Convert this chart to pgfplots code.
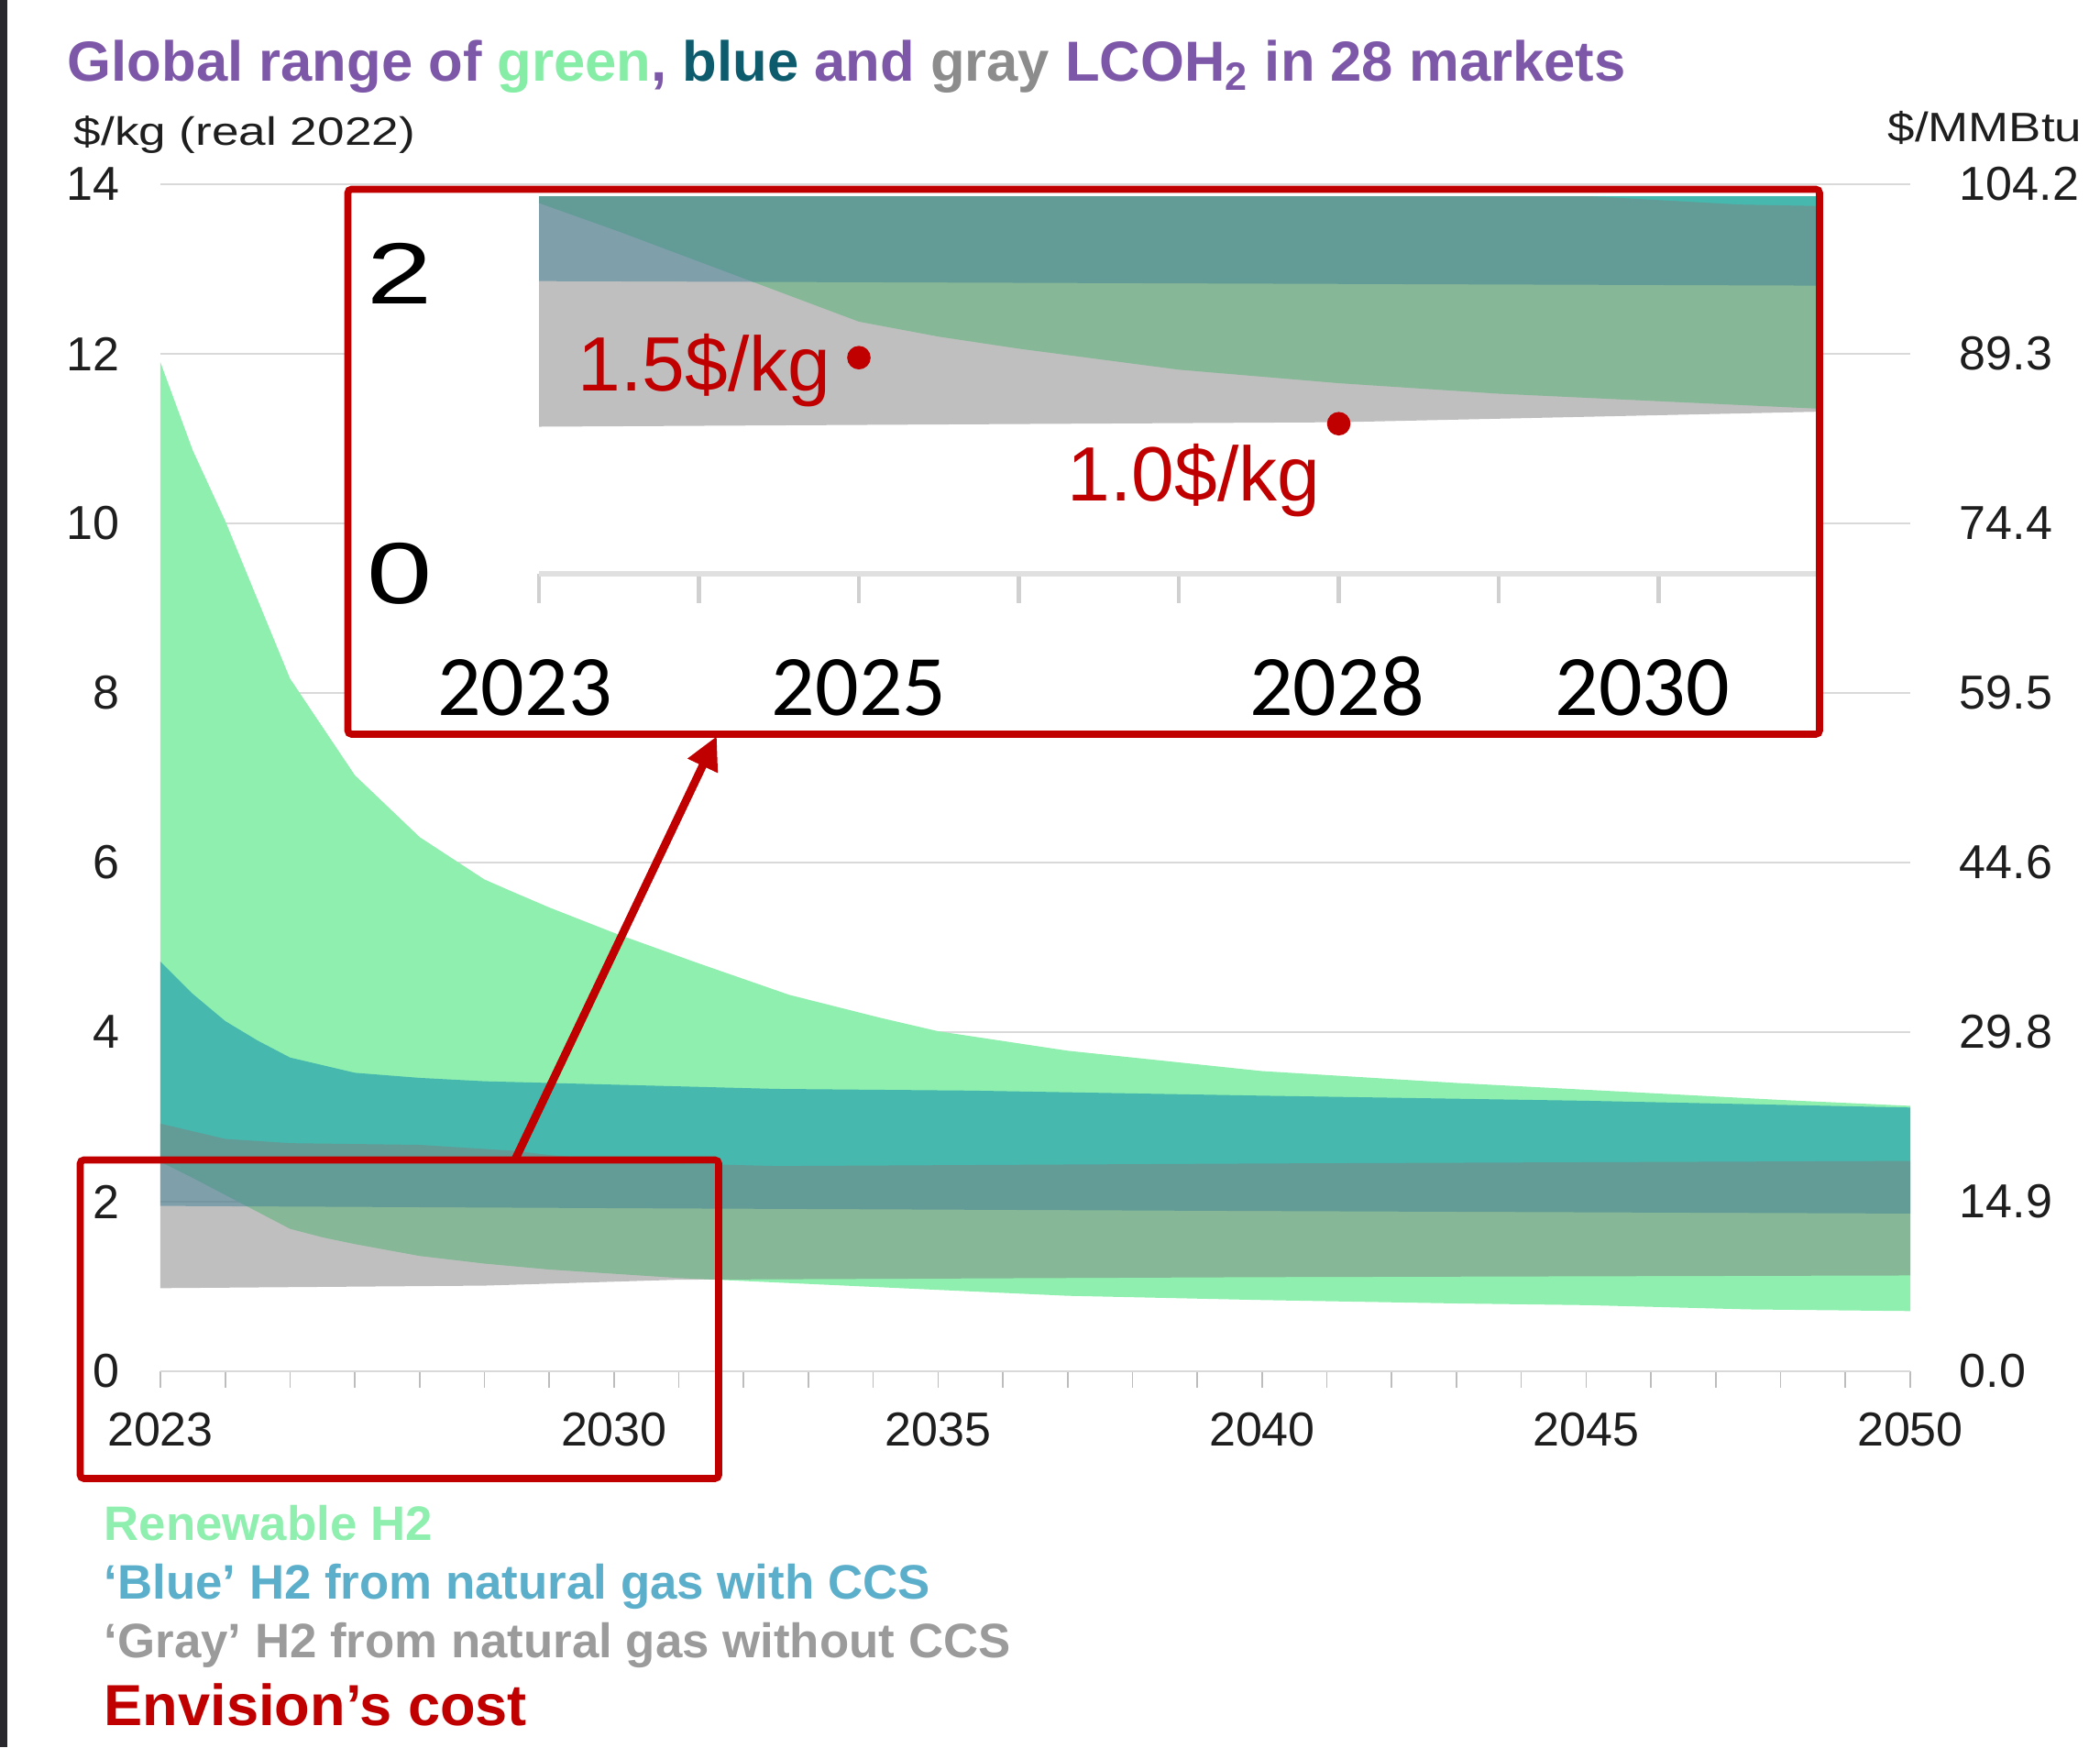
\documentclass[border=0pt]{standalone}
\usepackage{pgfplots}
\pgfplotsset{compat=1.18}
\usepackage{pgfplotstable}
\usetikzlibrary{arrows.meta}
\usepackage{graphicx}
\usepackage{fontspec}
\setmainfont{Liberation Sans}
\newfontfamily\carlito{Carlito}

\definecolor{cgreen}{HTML}{8EEFAE}
\definecolor{cteal}{HTML}{0082AF}
\definecolor{cgray}{HTML}{808080}
\definecolor{cred}{HTML}{C00000}
\definecolor{tpurple}{HTML}{7E58A8}
\definecolor{tgreen}{HTML}{86EDA6}
\definecolor{tblue}{HTML}{0D5C6E}
\definecolor{tgray}{HTML}{8C8C8C}
\definecolor{lblue}{HTML}{5BAFCB}
\definecolor{lgray}{HTML}{9B9B9B}
\definecolor{axisgray}{HTML}{D9D9D9}
\definecolor{tickgray}{HTML}{BDBDBD}
\definecolor{gridgray}{HTML}{D9D9D9}
\definecolor{ticktext}{HTML}{1E1E1E}
\definecolor{insetaxis}{HTML}{E0E0E0}
\definecolor{insettick}{HTML}{D0D0D0}
\definecolor{darkstrip}{HTML}{28282D}

% Renewable (green) range: upper bound forward, lower bound backward
\pgfplotstableread{
x y
2023 11.9
2023.5 10.86
2024 10.03
2024.5 9.1
2025 8.17
2026 7.03
2027 6.3
2028 5.8
2028.45 5.65
2029 5.47
2030 5.17
2031.27 4.82
2032.7 4.44
2034.1 4.17
2035 4.01
2037 3.78
2040 3.54
2043 3.4
2045 3.32
2048 3.2
2050 3.13
2050 0.71
2047.5 0.73
2045 0.78
2043 0.8
2040 0.84
2037 0.89
2035 0.96
2033 1.03
2031 1.1
2030 1.15
2029 1.2
2028 1.27
2027 1.36
2026 1.5
2025.5 1.58
2025 1.68
2024.5 1.88
2024 2.08
2023.5 2.28
2023 2.47
}\tGreen
% Blue (teal) range
\pgfplotstableread{
x y
2023 4.83
2023.5 4.45
2024 4.13
2024.5 3.9
2025 3.7
2026 3.52
2027 3.46
2028 3.42
2030 3.38
2032.5 3.33
2035.5 3.31
2040 3.25
2045 3.19
2050 3.11
2050 1.86
2040 1.89
2031 1.92
2023 1.95
}\tBlue
% Gray range
\pgfplotstableread{
x y
2023 2.92
2024 2.74
2025 2.69
2027 2.67
2028.45 2.6
2029 2.55
2030.5 2.46
2032.5 2.42
2040 2.45
2050 2.48
2050 1.13
2040 1.11
2031 1.08
2028 1.01
2023 0.98
}\tGray

\newcommand{\bands}{%
  \addplot[draw=none, fill=cgreen] table {\tGreen};
  \addplot[draw=none, fill=cteal, fill opacity=0.5] table {\tBlue};
  \addplot[draw=none, fill=cgray, fill opacity=0.5] table {\tGray};
}

\begin{document}
\begin{tikzpicture}
\fill[darkstrip] (0pt,0pt) rectangle (2pt,476.5pt);

% main chart
\begin{axis}[
  at={(43.75pt,102.5pt)}, anchor=south west, scale only axis,
  width=477.25pt, height=323.75pt,
  xmin=2023, xmax=2050, ymin=0, ymax=14,
  axis x line*=bottom, axis y line*=left,
  y axis line style={draw=none},
  x axis line style={draw=axisgray, line width=0.7pt},
  xtick={2023,2030,2035,2040,2045,2050},
  xticklabels={2023,2030,2035,2040,2045,2050},
  minor xtick={2024,...,2049},
  tick align=outside,
  major tick length=4.5pt, minor tick length=4.5pt,
  x tick style={draw=tickgray, line width=0.4pt},
  ytick={0,2,...,14}, yticklabels={0,2,4,6,8,10,12,14},
  y tick style={draw=none},
  ymajorgrids, grid style={draw=gridgray, line width=0.5pt},
  ticklabel style={font=\fontsize{13}{15}\selectfont, text=ticktext, inner sep=0pt},
  xticklabel style={anchor=north, yshift=-6.5pt},
  yticklabel style={anchor=east, xshift=-6.5pt},
]
\bands
\end{axis}

% right-hand scale ($/MMBtu)
\begin{axis}[
  at={(43.75pt,102.5pt)}, anchor=south west, scale only axis,
  width=477.25pt, height=323.75pt,
  xmin=2023, xmax=2050, ymin=0, ymax=14,
  hide x axis, axis y line*=right, y axis line style={draw=none},
  ytick={0,2,...,14},
  yticklabels={0.0,14.9,29.8,44.6,59.5,74.4,89.3,104.2},
  y tick style={draw=none},
  yticklabel style={anchor=west, inner sep=0pt, xshift=13.25pt,
    font=\fontsize{13}{15}\selectfont, text=ticktext},
]
\addplot[draw=none] coordinates {(2023,0) (2050,14)};
\end{axis}

% axis titles
\node[anchor=base west, inner sep=0pt, text=ticktext, font=\fontsize{10.8}{13}\selectfont]
  at (20pt,436.75pt) {\scalebox{1.23}[1]{\$/kg (real 2022)}};
\node[anchor=base east, inner sep=0pt, text=ticktext, font=\fontsize{11.2}{13}\selectfont]
  at (568pt,437.75pt) {\scalebox{1.18}[1]{\$/MMBtu}};

% chart title
\node[anchor=base west, inner sep=0pt, font=\fontsize{15.4}{18}\selectfont\bfseries]
  at (18.25pt,454.4pt) {\textcolor{tpurple}{Global range of} \textcolor{tgreen}{green}\textcolor{tpurple}{,} \textcolor{tblue}{blue} \textcolor{tpurple}{and} \textcolor{tgray}{gray} \textcolor{tpurple}{LCOH\textsubscript{2} in 28 markets}};

% inset background
\fill[white] (94.875pt,276.25pt) rectangle (496.25pt,424.875pt);

% inset zoom chart
\begin{axis}[
  at={(147pt,320pt)}, anchor=south west, scale only axis,
  width=349pt, height=102.75pt,
  xmin=2023, xmax=2031, ymin=0, ymax=2.51,
  axis x line*=bottom, axis y line*=left,
  y axis line style={draw=none},
  x axis line style={draw=insetaxis, line width=1.7pt},
  xtick={2023,2024,2025,2026,2027,2028,2029,2030,2031},
  xticklabels={,,,,,,,,},
  tick align=outside, major tick length=8pt,
  x tick style={draw=insettick, line width=1.2pt},
  extra x ticks={2023,2025,2028,2030},
  extra x tick labels={2023\hspace*{7.7pt},2025,2028\hspace*{1pt},2030\hspace*{8.8pt}},
  extra x tick style={major tick length=0pt,
    xticklabel style={anchor=base, inner sep=0pt, yshift=-38.75pt,
      font=\carlito\fontsize{23.5}{28}\selectfont, text=black}},
  ytick={0,2}, yticklabels={\scalebox{1.35}[1]{0},\scalebox{1.35}[1]{2}},
  y tick style={draw=none},
  yticklabel style={anchor=center, inner sep=0pt, xshift=-30.1pt,
    font=\fontsize{23.7}{28}\selectfont, text=black},
]
\bands
\addplot[only marks, mark=*, mark size=3pt, color=cred] coordinates {(2025,1.44) (2028,1.0)};
\node[anchor=base west, inner sep=0pt, text=cred, font=\fontsize{21}{25}\selectfont]
  at (axis cs:2023.24,1.217) {1.5\$/kg};
\node[anchor=base west, inner sep=0pt, text=cred, font=\fontsize{21}{25}\selectfont]
  at (axis cs:2026.30,0.483) {1.0\$/kg};
\end{axis}

% red frames and arrow
\draw[cred, line width=1.9pt, rounded corners=1pt] (94.875pt,276.25pt) rectangle (496.25pt,424.875pt);
\draw[cred, line width=1.9pt, rounded corners=1pt] (21.875pt,73.25pt) rectangle (196pt,160.125pt);
\draw[cred, line width=2.2pt, -{Triangle[length=9pt,width=8.5pt]}] (140.5pt,160.25pt) -- (195.5pt,275.75pt);

% legend text
\node[anchor=base west, inner sep=0pt, text=cgreen, font=\fontsize{13.2}{15}\selectfont\bfseries]
  at (28.25pt,56.3pt) {Renewable H2};
\node[anchor=base west, inner sep=0pt, text=lblue, font=\fontsize{13.2}{15}\selectfont\bfseries]
  at (28.25pt,40.25pt) {‘Blue’ H2 from natural gas with CCS};
\node[anchor=base west, inner sep=0pt, text=lgray, font=\fontsize{13.2}{15}\selectfont\bfseries]
  at (28.25pt,24.4pt) {‘Gray’ H2 from natural gas without CCS};
\node[anchor=base west, inner sep=0pt, text=cred, font=\fontsize{15.8}{18}\selectfont\bfseries]
  at (28.25pt,5.75pt) {Envision’s cost};

\pgfresetboundingbox
\path[use as bounding box] (0pt,0pt) rectangle (572.75pt,476.5pt);
\end{tikzpicture}
\end{document}
